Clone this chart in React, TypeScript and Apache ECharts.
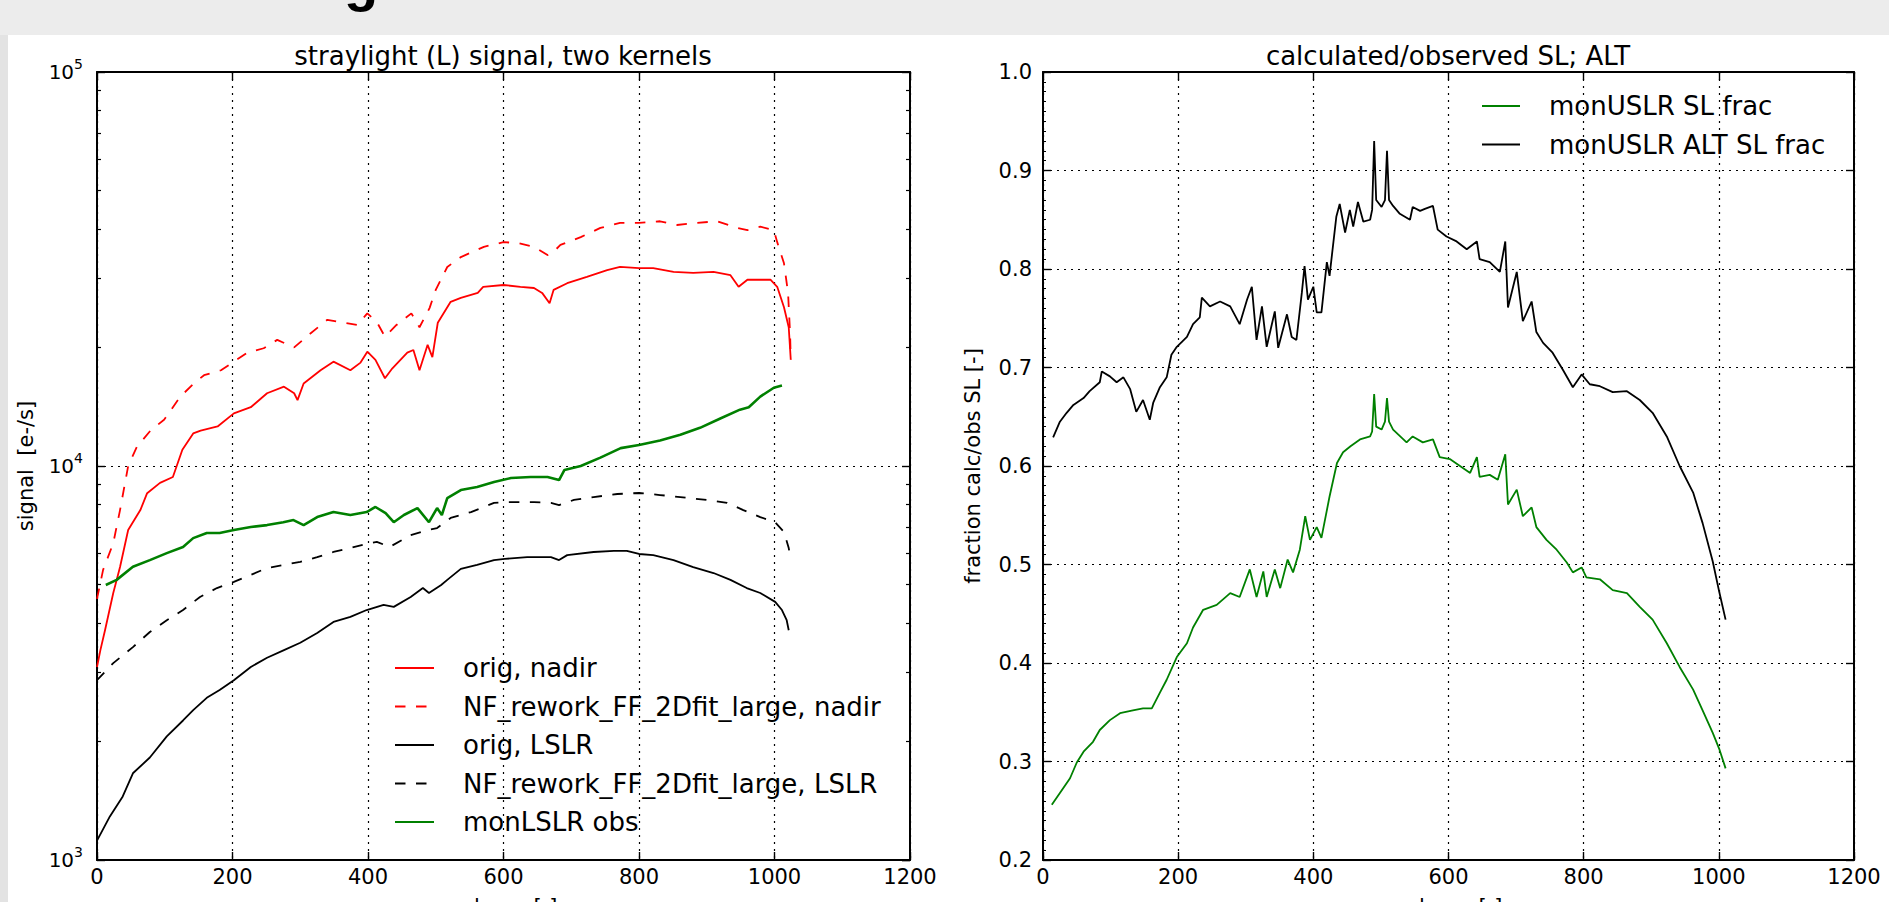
import React, { useEffect, useRef } from "react";
import * as echarts from "echarts";

// ---------- data ----------
const xTickValues = [0, 200, 400, 600, 800, 1000, 1200];
const logMinorTicks = [2000, 3000, 4000, 5000, 6000, 7000, 8000, 9000, 20000, 30000, 40000, 50000, 60000, 70000, 80000, 90000];

const leftNames = ["orig, nadir", "NF_rework_FF_2Dfit_large, nadir", "orig, LSLR", "NF_rework_FF_2Dfit_large, LSLR", "monLSLR obs"];
const rightNames = ["monUSLR SL frac", "monUSLR ALT SL frac"];

const origNadirCol = [0, 5, 12, 24, 34, 46, 64, 74, 93, 112, 126, 142, 153, 178, 202, 227, 251, 276, 291, 296, 305, 330, 349, 374, 389, 399, 411, 425, 436, 458, 467, 476, 488, 495, 503, 522, 537, 562, 570, 600, 625, 645, 657, 668, 674, 694, 723, 753, 772, 800, 821, 851, 880, 910, 935, 947, 960, 994, 1004, 1014, 1021, 1024];
const origNadirVal = [3090, 3410, 3840, 4760, 5540, 6880, 7730, 8530, 9060, 9380, 11000, 12100, 12300, 12600, 13600, 14100, 15300, 15900, 15300, 14700, 16200, 17500, 18400, 17500, 18300, 19500, 18600, 16700, 17700, 19400, 19700, 17500, 20300, 18900, 23100, 26100, 26700, 27500, 28500, 28800, 28500, 28300, 27500, 25900, 28000, 29100, 30200, 31400, 32000, 31800, 31800, 31100, 30900, 31100, 30500, 28500, 29700, 29700, 28500, 25300, 22500, 18600];

const nfNadirCol = [0, 9, 24, 34, 46, 59, 79, 99, 123, 143, 158, 183, 202, 222, 246, 266, 291, 315, 340, 364, 384, 399, 413, 425, 442, 464, 476, 491, 500, 517, 537, 571, 600, 621, 645, 665, 672, 684, 714, 743, 772, 800, 831, 856, 886, 915, 945, 960, 979, 999, 1004, 1014, 1020, 1023, 1024];
const nfNadirVal = [4600, 5450, 6370, 7730, 10000, 11200, 12300, 13100, 15000, 16200, 17000, 17500, 18400, 19400, 19900, 20900, 20000, 21700, 23500, 23100, 22800, 24400, 23200, 21300, 22800, 24400, 22500, 25200, 28000, 32000, 33900, 36000, 37000, 36800, 36000, 34300, 34700, 36400, 38100, 40200, 41400, 41400, 41800, 40900, 41400, 41800, 40200, 39700, 40500, 39700, 37000, 32700, 27500, 21700, 18600];

const origLslrCol = [0, 19, 38, 53, 78, 103, 127, 142, 162, 181, 202, 227, 251, 276, 300, 325, 349, 374, 398, 423, 438, 463, 481, 490, 508, 517, 537, 561, 586, 602, 635, 670, 682, 694, 733, 763, 782, 800, 821, 851, 880, 910, 935, 959, 979, 1001, 1011, 1018, 1021];
const origLslrVal = [1120, 1290, 1450, 1660, 1820, 2060, 2260, 2400, 2580, 2700, 2860, 3090, 3260, 3410, 3560, 3770, 4020, 4140, 4310, 4440, 4390, 4650, 4900, 4760, 4990, 5140, 5480, 5610, 5770, 5810, 5870, 5870, 5770, 5940, 6050, 6090, 6090, 5980, 5940, 5770, 5540, 5350, 5140, 4900, 4760, 4520, 4310, 4060, 3830];

const nfLslrCol = [0, 24, 53, 78, 103, 127, 152, 177, 202, 227, 251, 276, 300, 325, 349, 374, 398, 413, 432, 463, 488, 502, 522, 552, 586, 602, 645, 670, 682, 704, 733, 768, 800, 831, 861, 900, 930, 954, 979, 1001, 1014, 1021, 1024];
const nfLslrVal = [2860, 3160, 3470, 3790, 4060, 4310, 4650, 4900, 5080, 5290, 5510, 5610, 5710, 5870, 6050, 6190, 6350, 6420, 6230, 6680, 6880, 6960, 7380, 7640, 8060, 8100, 8100, 8060, 7960, 8200, 8340, 8490, 8540, 8440, 8340, 8200, 8060, 7730, 7420, 7200, 6800, 6190, 5770];

const monLslrCol = [13, 29, 53, 78, 103, 127, 142, 162, 181, 202, 227, 251, 275, 290, 305, 325, 349, 374, 398, 411, 426, 438, 453, 473, 490, 502, 509, 517, 537, 561, 586, 611, 640, 665, 682, 690, 714, 743, 773, 800, 831, 861, 890, 920, 949, 962, 979, 999, 1011];
const monLslrVal = [4990, 5140, 5550, 5770, 6010, 6230, 6560, 6760, 6760, 6880, 7000, 7080, 7200, 7290, 7080, 7420, 7640, 7510, 7640, 7870, 7590, 7200, 7510, 7820, 7200, 7820, 7510, 8290, 8690, 8850, 9110, 9320, 9380, 9380, 9210, 9770, 10000, 10500, 11100, 11300, 11600, 12000, 12500, 13200, 13900, 14100, 15000, 15800, 16000];

const usFracCol = [13, 25, 40, 50, 60, 74, 84, 99, 114, 133, 148, 161, 173, 183, 198, 213, 222, 237, 257, 277, 291, 306, 316, 326, 331, 343, 351, 362, 370, 380, 388, 395, 405, 412, 424, 435, 444, 455, 469, 484, 487, 490, 493, 501, 506, 509, 512, 518, 538, 547, 562, 577, 587, 602, 617, 632, 642, 646, 661, 673, 684, 688, 701, 710, 723, 730, 745, 760, 775, 784, 797, 804, 824, 843, 864, 883, 902, 923, 942, 962, 976, 991, 1001, 1010];
const usFracVal = [0.256, 0.268, 0.283, 0.299, 0.31, 0.32, 0.332, 0.342, 0.349, 0.352, 0.354, 0.354, 0.37, 0.383, 0.406, 0.42, 0.436, 0.454, 0.459, 0.471, 0.467, 0.495, 0.467, 0.493, 0.467, 0.495, 0.476, 0.505, 0.492, 0.515, 0.549, 0.525, 0.538, 0.527, 0.569, 0.603, 0.614, 0.62, 0.627, 0.63, 0.635, 0.673, 0.64, 0.637, 0.645, 0.669, 0.645, 0.637, 0.624, 0.63, 0.624, 0.627, 0.609, 0.607, 0.6, 0.593, 0.609, 0.589, 0.591, 0.586, 0.612, 0.561, 0.576, 0.549, 0.558, 0.538, 0.525, 0.515, 0.502, 0.492, 0.497, 0.487, 0.485, 0.474, 0.471, 0.457, 0.444, 0.42, 0.396, 0.373, 0.352, 0.329, 0.312, 0.293];

const altFracCol = [15, 25, 35, 45, 60, 69, 84, 87, 99, 109, 119, 129, 138, 148, 158, 163, 173, 183, 190, 198, 213, 222, 232, 235, 247, 262, 277, 291, 302, 309, 316, 324, 331, 343, 348, 361, 368, 375, 383, 387, 392, 400, 405, 412, 420, 424, 434, 439, 447, 454, 459, 466, 474, 484, 487, 490, 493, 501, 506, 509, 512, 518, 528, 543, 547, 558, 565, 577, 584, 597, 612, 627, 642, 646, 661, 676, 684, 688, 701, 710, 723, 730, 740, 754, 769, 784, 797, 809, 824, 843, 864, 883, 902, 923, 942, 962, 976, 991, 1001, 1010];
const altFracVal = [0.629, 0.645, 0.654, 0.662, 0.669, 0.676, 0.685, 0.696, 0.691, 0.685, 0.69, 0.678, 0.655, 0.667, 0.647, 0.664, 0.68, 0.69, 0.713, 0.721, 0.731, 0.744, 0.751, 0.771, 0.762, 0.767, 0.762, 0.744, 0.769, 0.782, 0.728, 0.762, 0.721, 0.757, 0.72, 0.754, 0.731, 0.728, 0.776, 0.803, 0.769, 0.782, 0.756, 0.756, 0.807, 0.793, 0.853, 0.866, 0.837, 0.86, 0.843, 0.868, 0.848, 0.85, 0.86, 0.93, 0.87, 0.863, 0.87, 0.92, 0.87, 0.864, 0.856, 0.85, 0.863, 0.859, 0.861, 0.864, 0.84, 0.833, 0.828, 0.82, 0.828, 0.81, 0.807, 0.797, 0.828, 0.761, 0.797, 0.747, 0.767, 0.736, 0.725, 0.715, 0.698, 0.68, 0.693, 0.683, 0.681, 0.675, 0.676, 0.667, 0.654, 0.63, 0.6, 0.573, 0.542, 0.503, 0.471, 0.444];

// ---------- helpers ----------
const FONT = '"DejaVu Sans", "Bitstream Vera Sans", sans-serif';
const zip = (xs: number[], ys: number[]) => xs.map((x, i) => [x, ys[i]]);

const gridDots = { color: "#000", width: 1.2, type: [2, 5] as any };

function xAxesFor(gridIndex: number) {
  const common = {
    type: "value",
    gridIndex,
    min: xTickValues[0],
    max: xTickValues[xTickValues.length - 1],
    interval: xTickValues[1] - xTickValues[0],
    axisLine: { show: true, onZero: false, lineStyle: { color: "#000", width: 2 } },
    axisTick: { show: true, inside: true, length: 8, lineStyle: { color: "#000", width: 1.4 } },
  };
  return [
    {
      ...common,
      position: "bottom",
      axisLabel: {
        show: true,
        color: "#000",
        fontSize: 21,
        fontFamily: FONT,
        margin: 6,
        formatter: (v: number) => String(v),
      },
      splitLine: { show: true, lineStyle: gridDots },
      name: "column [-]",
      nameLocation: "middle",
      nameGap: 36,
      nameTextStyle: { color: "#000", fontSize: 21, fontFamily: FONT },
    },
    {
      ...common,
      position: "top",
      axisLabel: { show: false },
      splitLine: { show: false },
    },
  ];
}

function minorLogAxis(position: string) {
  return {
    type: "value",
    gridIndex: 0,
    position,
    min: 3,
    max: 5,
    axisLine: { show: false, onZero: false },
    axisLabel: { show: false },
    splitLine: { show: false },
    axisTick: {
      show: true,
      inside: true,
      length: 4,
      lineStyle: { color: "#000", width: 1.2 },
      customValues: logMinorTicks.map((v) => Math.log10(v)),
    },
  };
}

function lineSeries(name: string, data: number[][], color: string, dashed: boolean, width: number, xi: number, yi: number) {
  return {
    type: "line",
    name,
    xAxisIndex: xi,
    yAxisIndex: yi,
    data,
    symbol: "none",
    showSymbol: false,
    smooth: false,
    lineStyle: { color, width, type: dashed ? [10.5, 10.5] : "solid" },
    itemStyle: { color },
    emphasis: { disabled: true },
  };
}

export default function App() {
  const ref = useRef<HTMLDivElement>(null);

  useEffect(() => {
    document.body.style.margin = "0";
    if (!ref.current) return;
    const chart = echarts.init(ref.current, undefined, { renderer: "svg" });

    const legendCommon = {
      orient: "vertical",
      padding: 0,
      itemHeight: 14,
      itemGap: 12.5,
      selectedMode: false,
      itemStyle: { opacity: 0 },
      textStyle: { color: "#000", fontSize: 26, fontFamily: FONT, padding: [0, 0, 0, 24] },
    };

    const option: any = {
      animation: false,
      backgroundColor: "#ffffff",
      title: [
        {
          text: "straylight (L) signal, two kernels",
          left: 503,
          top: 43,
          textAlign: "center",
          padding: 0,
          textStyle: { color: "#000", fontSize: 26, fontWeight: "normal", fontFamily: FONT },
        },
        {
          text: "calculated/observed SL; ALT",
          left: 1448,
          top: 43,
          textAlign: "center",
          padding: 0,
          textStyle: { color: "#000", fontSize: 26, fontWeight: "normal", fontFamily: FONT },
        },
        {
          text: "g",
          left: 344,
          top: -48,
          padding: 0,
          textStyle: {
            color: "#000",
            fontSize: 56,
            lineHeight: 56,
            fontWeight: "bold",
            fontFamily: '"Liberation Sans", sans-serif',
          },
        },
      ],
      graphic: [
        { type: "rect", z: -10, shape: { x: 0, y: 0, width: 1889, height: 35 }, style: { fill: "#ececec" } },
        { type: "rect", z: -10, shape: { x: 0, y: 35, width: 8, height: 867 }, style: { fill: "#e3e3e3" } },
      ],
      grid: [
        { left: 97, top: 72, width: 813, height: 788, containLabel: false, outerBoundsMode: "none" },
        { left: 1043, top: 72, width: 811, height: 788, containLabel: false, outerBoundsMode: "none" },
      ],
      legend: [
        { ...legendCommon, data: leftNames, left: 394, top: 655, itemWidth: 39 },
        { ...legendCommon, data: rightNames, left: 1481, top: 93, itemWidth: 38 },
      ],
      xAxis: [...xAxesFor(0), ...xAxesFor(1)],
      yAxis: [
        {
          type: "log",
          logBase: 10,
          gridIndex: 0,
          position: "left",
          min: 1000,
          max: 100000,
          axisLine: { show: true, onZero: false, lineStyle: { color: "#000", width: 2 } },
          axisTick: { show: true, inside: true, length: 8, lineStyle: { color: "#000", width: 1.4 } },
          axisLabel: {
            show: true,
            margin: 14,
            formatter: (v: number) => `{b|10}{e|${Math.round(Math.log10(v))}}`,
            rich: {
              b: { fontSize: 20, lineHeight: 14, color: "#000", fontFamily: FONT },
              e: { fontSize: 14, lineHeight: 14, color: "#000", fontFamily: FONT, padding: [0, 0, 16, 0] },
            },
          },
          splitLine: { show: true, lineStyle: gridDots },
          name: "signal  [e-/s]",
          nameLocation: "middle",
          nameRotate: 90,
          nameGap: 61,
          nameTextStyle: { color: "#000", fontSize: 21, fontFamily: FONT },
        },
        {
          type: "log",
          logBase: 10,
          gridIndex: 0,
          position: "right",
          min: 1000,
          max: 100000,
          axisLine: { show: true, onZero: false, lineStyle: { color: "#000", width: 2 } },
          axisTick: { show: true, inside: true, length: 8, lineStyle: { color: "#000", width: 1.4 } },
          axisLabel: { show: false },
          splitLine: { show: false },
        },
        minorLogAxis("left"),
        minorLogAxis("right"),
        {
          type: "value",
          gridIndex: 1,
          position: "left",
          min: 0.2,
          max: 1.0,
          interval: 0.1,
          axisLine: { show: true, onZero: false, lineStyle: { color: "#000", width: 2 } },
          axisTick: { show: true, inside: true, length: 8, lineStyle: { color: "#000", width: 1.4 } },
          minorTick: { show: true, splitNumber: 10, length: 3, lineStyle: { color: "#000", width: 1 } },
          axisLabel: {
            show: true,
            margin: 11,
            color: "#000",
            fontSize: 21,
            fontFamily: FONT,
            formatter: (v: number) => v.toFixed(1),
          },
          splitLine: { show: true, lineStyle: gridDots },
          name: "fraction calc/obs SL [-]",
          nameLocation: "middle",
          nameRotate: 90,
          nameGap: 60,
          nameTextStyle: { color: "#000", fontSize: 21, fontFamily: FONT },
        },
        {
          type: "value",
          gridIndex: 1,
          position: "right",
          min: 0.2,
          max: 1.0,
          interval: 0.1,
          axisLine: { show: true, onZero: false, lineStyle: { color: "#000", width: 2 } },
          axisTick: { show: true, inside: true, length: 8, lineStyle: { color: "#000", width: 1.4 } },
          axisLabel: { show: false },
          splitLine: { show: false },
        },
      ],
      series: [
        lineSeries(leftNames[0], zip(origNadirCol, origNadirVal), "#ff0000", false, 1.8, 0, 0),
        lineSeries(leftNames[1], zip(nfNadirCol, nfNadirVal), "#ff0000", true, 1.8, 0, 0),
        lineSeries(leftNames[2], zip(origLslrCol, origLslrVal), "#000000", false, 1.8, 0, 0),
        lineSeries(leftNames[3], zip(nfLslrCol, nfLslrVal), "#000000", true, 1.8, 0, 0),
        lineSeries(leftNames[4], zip(monLslrCol, monLslrVal), "#008000", false, 2.6, 0, 0),
        lineSeries(rightNames[0], zip(usFracCol, usFracVal), "#008000", false, 1.8, 2, 4),
        lineSeries(rightNames[1], zip(altFracCol, altFracVal), "#000000", false, 1.8, 2, 4),
      ],
    };

    chart.setOption(option);
    return () => {
      chart.dispose();
    };
  }, []);

  return <div ref={ref} style={{ width: 1889, height: 902 }} />;
}
